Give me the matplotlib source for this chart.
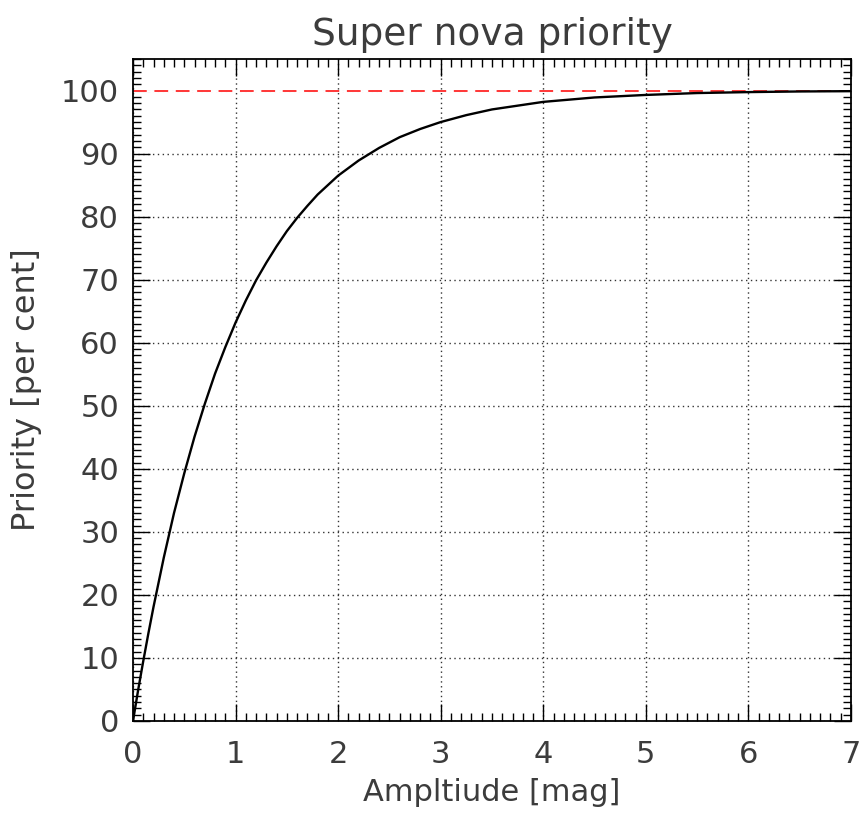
import numpy as np
import matplotlib.pyplot as plt
from matplotlib.ticker import MultipleLocator

# values
amplitude = [0.0, 0.05, 0.1, 0.15, 0.2, 0.3, 0.4, 0.5, 0.6, 0.7, 0.8, 0.9, 1.0,
             1.1, 1.2, 1.3, 1.4, 1.5, 1.6, 1.7, 1.8, 1.9, 2.0, 2.2, 2.4, 2.6,
             2.8, 3.0, 3.25, 3.5, 3.75, 4.0, 4.5, 5.0, 5.5, 6.0, 6.5, 7.0]
priority = [0.0, 4.9, 9.5, 13.9, 18.1, 25.9, 33.0, 39.3, 45.1, 50.3, 55.1,
            59.3, 63.2, 66.7, 69.9, 72.7, 75.3, 77.7, 79.8, 81.7, 83.5, 85.0,
            86.5, 88.9, 90.9, 92.6, 93.9, 95.0, 96.1, 97.0, 97.6, 98.2, 98.9,
            99.3, 99.6, 99.75, 99.85, 99.9]
limit = 100

txt = '#3c3c3c'
plt.rcParams['font.family'] = ['DejaVu Sans']

fig = plt.figure(figsize=(8.63, 8.18), dpi=100, facecolor='w')
ax = fig.add_axes([133 / 863, 1 - 721 / 818, (851 - 133) / 863, (721 - 59) / 818])

ax.plot(amplitude, priority, color='k', lw=1.7, zorder=4)
# blank out the grid line under the dashed limit
ax.axhline(limit, color='white', lw=2.0, zorder=2.5)
ax.axhline(limit, color='red', ls=(0, (9, 5)), lw=1.1, zorder=3)

ax.set_xlim(0, 7)
ax.set_ylim(0, 105)
ax.xaxis.set_major_locator(MultipleLocator(1))
ax.xaxis.set_minor_locator(MultipleLocator(0.1))
ax.yaxis.set_major_locator(MultipleLocator(10))
ax.yaxis.set_minor_locator(MultipleLocator(1))
ax.grid(True, which='major', color='#333333', ls=(0, (1, 2.5)), lw=1.0)

ax.tick_params(which='both', direction='in', top=True, right=True, color='k')
ax.tick_params(which='major', length=12, width=1.0, labelsize=22, labelcolor=txt)
ax.tick_params(which='minor', length=6, width=1.0)
ax.tick_params(axis='x', pad=14)
ax.tick_params(axis='y', pad=10)
for s in ax.spines.values():
    s.set_linewidth(1.3)
    s.set_zorder(5)

ax.set_xlabel('Ampltiude [mag]', fontsize=22, color=txt, labelpad=6)
ax.set_ylabel('Priority [per cent]', fontsize=23, color=txt, labelpad=14)
ax.set_title('Super nova priority', fontsize=27, color=txt, pad=10)

fig.savefig('out.png', dpi=100)
